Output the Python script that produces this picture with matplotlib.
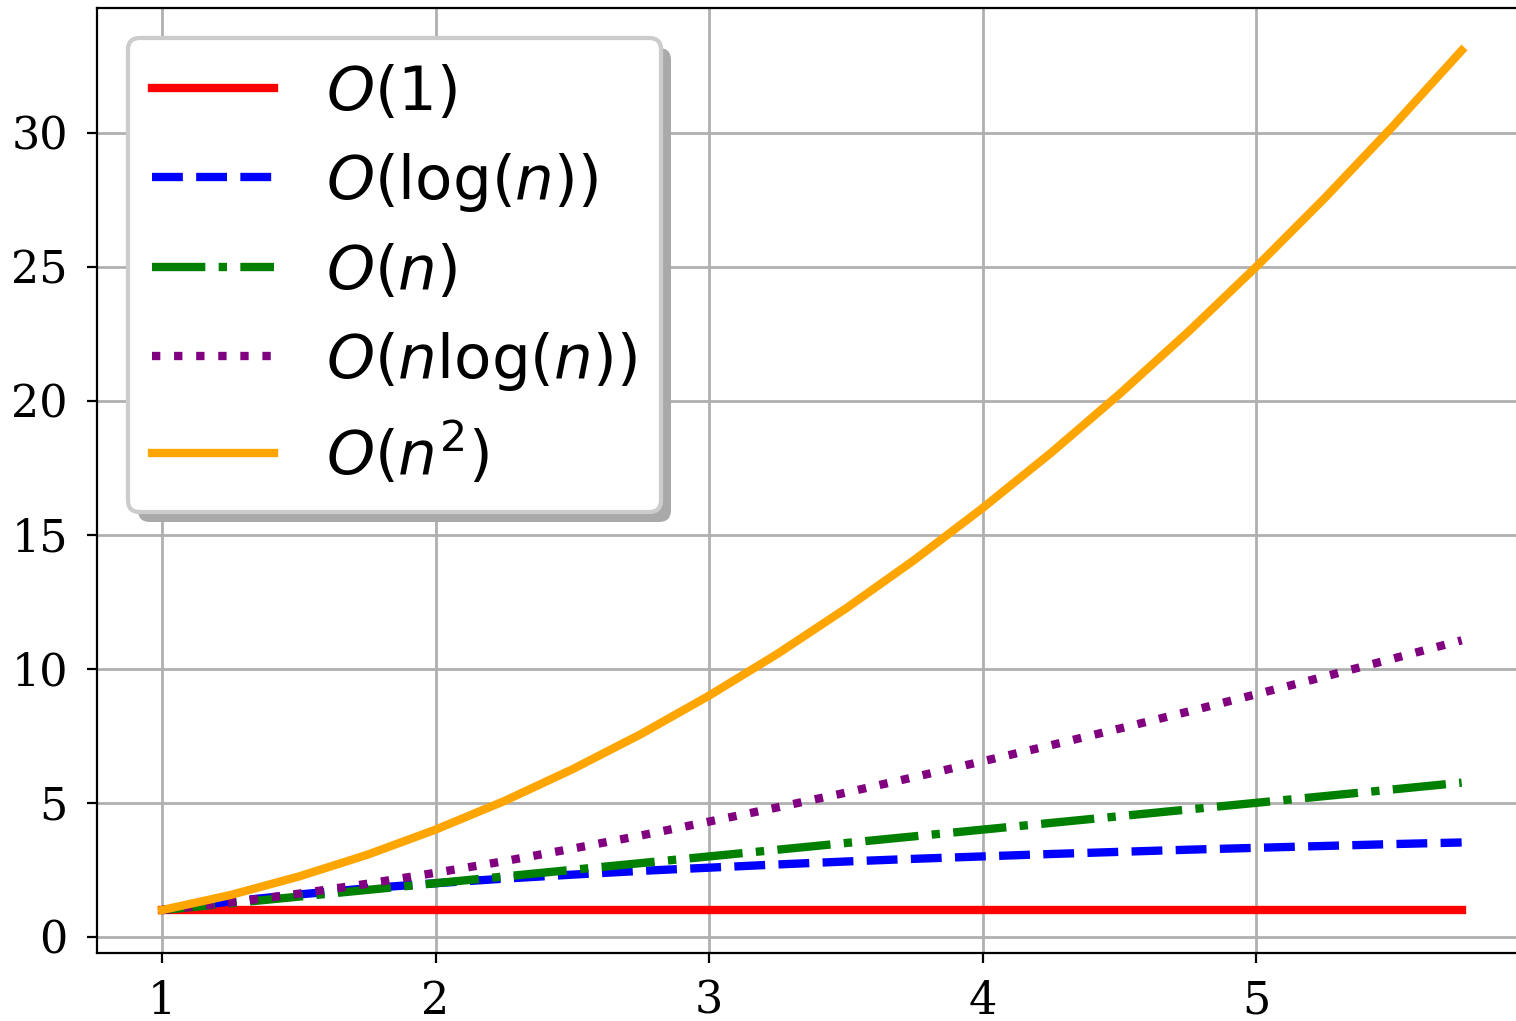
import matplotlib
matplotlib.use('Agg')
import matplotlib.pyplot as plt
import matplotlib.patheffects as pe

plt.rcParams['font.family'] = 'DejaVu Serif'
plt.rcParams['mathtext.fontset'] = 'dejavusans'

# valores
n = [1.0, 1.25, 1.5, 1.75, 2.0, 2.25, 2.5, 2.75, 3.0, 3.25,
     3.5, 3.75, 4.0, 4.25, 4.5, 4.75, 5.0, 5.25, 5.5, 5.75]
o_1 = [1.0] * 20
o_log = [1.0, 1.32, 1.58, 1.81, 2.0, 2.17, 2.32, 2.46, 2.58, 2.70,
         2.81, 2.91, 3.0, 3.09, 3.17, 3.25, 3.32, 3.39, 3.46, 3.52]
o_n = [1.0, 1.25, 1.5, 1.75, 2.0, 2.25, 2.5, 2.75, 3.0, 3.25,
       3.5, 3.75, 4.0, 4.25, 4.5, 4.75, 5.0, 5.25, 5.5, 5.75]
o_nlog = [1.0, 1.28, 1.61, 1.98, 2.39, 2.82, 3.29, 3.78, 4.30, 4.83,
          5.38, 5.96, 6.55, 7.15, 7.77, 8.40, 9.05, 9.71, 10.38, 11.06]
o_n2 = [1.0, 1.56, 2.25, 3.06, 4.0, 5.06, 6.25, 7.56, 9.0, 10.56,
        12.25, 14.06, 16.0, 18.06, 20.25, 22.56, 25.0, 27.56, 30.25, 33.06]

fig = plt.figure(figsize=(7.58, 5.105), dpi=200)
ax = fig.add_axes([0.064, 0.0666, 0.943, 0.926])

ax.plot(n, o_1, color='red', linestyle='-', linewidth=3, label=r'$O(1)$')
ax.plot(n, o_log, color='blue', linestyle='--', linewidth=3, label=r'$O(\log(n))$')
ax.plot(n, o_n, color='green', linestyle='-.', linewidth=3, label=r'$O(n)$')
ax.plot(n, o_nlog, color='purple', linestyle=':', linewidth=3, label=r'$O(n\log(n))$')
ax.plot(n, o_n2, color='orange', linestyle='-', linewidth=3, label=r'$O(n^2)$')

ax.set_xticks([1, 2, 3, 4, 5])
ax.set_yticks([0, 5, 10, 15, 20, 25, 30])
ax.tick_params(labelsize=16, pad=7)
ax.tick_params(axis='x', pad=6)
ax.grid(True, linewidth=1)
leg = ax.legend(loc='upper left', fontsize=22, labelspacing=0.46,
                framealpha=1.0, handletextpad=0.85)
frame = leg.get_frame()
frame.set_linewidth(1.5)
frame.set_path_effects([pe.withSimplePatchShadow(offset=(3.6, -3.6),
                                                 shadow_rgbFace='#a9a9a9', alpha=1.0),
                        pe.Normal()])

plt.savefig('out.png', dpi=200)
